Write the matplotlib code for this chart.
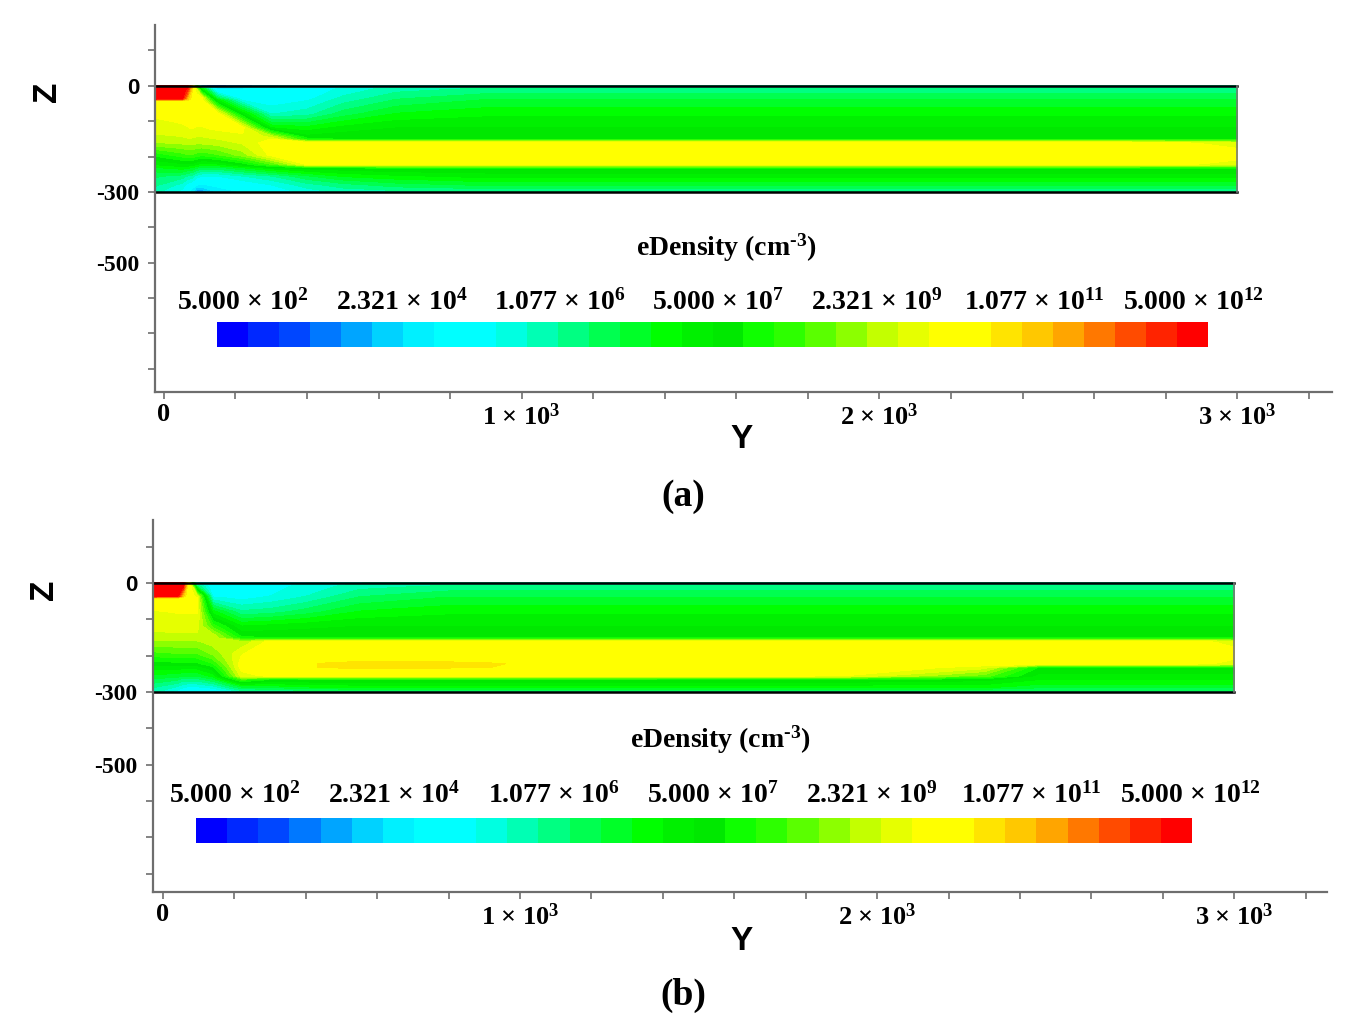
import numpy as np
import matplotlib
matplotlib.use('Agg')
import matplotlib.pyplot as plt

plt.rcParams['font.family'] = ['Liberation Serif', 'DejaVu Serif']
plt.rcParams['font.weight'] = 'bold'
plt.rcParams['mathtext.fontset'] = 'custom'
plt.rcParams['mathtext.rm'] = 'Liberation Serif:bold'
plt.rcParams['mathtext.it'] = 'Liberation Serif:bold:italic'
plt.rcParams['mathtext.bf'] = 'Liberation Serif:bold'
plt.rcParams['mathtext.default'] = 'rm'

# colour scale: log10(eDensity), 32 bands from 5e2 to 5e12 cm^-3
cb_min = np.log10(5e2)
cb_max = np.log10(5e12)
band_colors = [
    '#0000ff', '#0028ff', '#0046ff', '#0078ff', '#00a5ff', '#00d2ff', '#00f0ff', '#00ffff',
    '#00ffff', '#00ffe1', '#00ffb4', '#00ff82', '#00ff50', '#00ff28', '#00ff00', '#00f000',
    '#00e800', '#0fff00', '#2dff00', '#5aff00', '#8cff00', '#c3ff00', '#e6ff00', '#ffff00',
    '#ffff00', '#ffe400', '#ffc800', '#ffa500', '#ff7800', '#ff4b00', '#ff2300', '#ff0000',
]
cb_labels = ['5.000 × $10^{2}$', '2.321 × $10^{4}$', '1.077 × $10^{6}$', '5.000 × $10^{7}$',
             '2.321 × $10^{9}$', '1.077 × $10^{11}$', '5.000 × $10^{12}$']

x_ticks = np.arange(0, 3201, 200)
x_tick_labels = {0: '0', 1000: '1 × $10^{3}$', 2000: '2 × $10^{3}$', 3000: '3 × $10^{3}$'}
y_ticks = np.arange(100, -801, -100)
y_tick_labels = {0: '0', -300: '-300', -500: '-500'}

# ---- panel (a): log10 density, one profile per Y position (values along z_a)
y_a = [-25, 50, 65, 78, 90, 105, 150, 220, 300, 400, 500, 650, 900, 1500, 2200, 2700, 2900, 3000]
z_a = [0, -10, -36, -42, -80, -120, -145, -152, -162, -195, -222, -232, -255, -280, -300]
far_a = [5.9, 6.2, 6.7, 6.8, 7.3, 7.7, 7.9, 8.0, 10.1, 10.35, 10.1, 8.0, 7.5, 6.8, 6.1]
cols_a = [
    [12.6, 12.6, 12.6, 10.2, 9.95, 9.7, 9.5, 9.4, 9.2, 8.1, 7.4, 7.0, 6.5, 6.2, 5.9],
    [12.6, 12.6, 12.5, 10.3, 10.05, 9.8, 9.55, 9.45, 9.3, 8.5, 7.6, 7.2, 6.3, 5.7, 5.4],
    [12.5, 12.3, 11.0, 10.4, 10.1, 9.85, 9.6, 9.5, 9.35, 8.6, 7.6, 7.1, 6.1, 5.4, 5.0],
    [11.2, 10.6, 10.3, 10.3, 10.15, 9.9, 9.6, 9.5, 9.35, 8.6, 7.6, 7.0, 6.0, 5.2, 4.6],
    [7.5, 9.6, 10.2, 10.2, 10.1, 9.85, 9.55, 9.45, 9.3, 8.5, 7.4, 6.8, 5.7, 4.9, 4.0],
    [3.6, 7.4, 10.1, 10.1, 10.05, 9.85, 9.55, 9.45, 9.3, 8.4, 7.2, 6.6, 5.5, 4.8, 3.9],
    [3.7, 4.8, 6.6, 7.4, 10.05, 9.95, 9.65, 9.55, 9.4, 8.6, 7.3, 6.6, 5.5, 5.0, 4.6],
    [4.0, 4.9, 5.2, 5.5, 7.6, 10.0, 9.8, 9.7, 9.6, 9.1, 7.8, 7.0, 5.8, 5.2, 4.9],
    [4.4, 5.0, 5.2, 5.3, 5.8, 7.4, 9.5, 9.9, 10.1, 10.0, 8.6, 7.5, 6.1, 5.5, 5.3],
    [4.9, 5.2, 5.4, 5.5, 6.0, 7.2, 7.8, 8.2, 10.1, 10.3, 9.9, 7.8, 6.7, 6.0, 5.6],
    [5.3, 5.6, 5.9, 6.0, 6.6, 7.5, 7.9, 8.0, 10.1, 10.35, 10.1, 7.9, 7.1, 6.3, 5.9],
    [5.6, 6.0, 6.4, 6.5, 7.1, 7.7, 7.9, 8.0, 10.1, 10.35, 10.1, 8.0, 7.3, 6.6, 6.0],
    far_a,
    far_a,
    far_a,
    [5.9, 6.2, 6.7, 6.8, 7.3, 7.7, 7.9, 8.0, 10.05, 10.35, 10.05, 8.0, 7.5, 6.8, 6.1],
    [5.9, 6.2, 6.7, 6.8, 7.3, 7.7, 7.9, 8.0, 9.85, 10.3, 9.85, 8.0, 7.5, 6.8, 6.1],
    [5.9, 6.2, 6.7, 6.8, 7.3, 7.7, 7.9, 8.0, 9.6, 10.2, 9.6, 8.0, 7.5, 6.8, 6.1],
]

# ---- panel (b)
y_b = [-28, 40, 55, 68, 80, 95, 140, 220, 300, 400, 550, 800, 1300, 1900, 2300, 2450, 2800, 2950, 3000]
z_b = [0, -10, -36, -42, -80, -120, -145, -152, -162, -195, -222, -232, -255, -265, -285, -300]
far_b = [5.9, 6.2, 6.7, 6.8, 7.3, 7.7, 7.9, 8.0, 10.1, 10.35, 10.1, 8.0, 7.6, 7.4, 6.9, 6.2]
cols_b = [
    [12.6, 12.6, 12.6, 10.1, 9.85, 9.65, 9.5, 9.4, 9.2, 8.5, 7.8, 7.5, 7.0, 6.7, 6.2, 5.9],
    [12.6, 12.6, 12.5, 10.2, 9.9, 9.7, 9.5, 9.4, 9.2, 8.6, 7.9, 7.5, 6.9, 6.5, 5.8, 5.3],
    [12.6, 12.5, 11.0, 10.2, 9.9, 9.7, 9.5, 9.4, 9.2, 8.6, 7.9, 7.5, 6.8, 6.3, 5.6, 5.1],
    [10.8, 10.4, 10.2, 10.15, 9.9, 9.7, 9.5, 9.4, 9.2, 8.6, 7.9, 7.5, 6.8, 6.3, 5.5, 5.0],
    [8.0, 9.8, 10.05, 10.05, 9.9, 9.7, 9.5, 9.4, 9.2, 8.6, 7.9, 7.5, 6.8, 6.3, 5.5, 5.0],
    [5.0, 6.5, 9.7, 9.9, 9.9, 9.7, 9.5, 9.4, 9.2, 8.6, 7.9, 7.5, 6.8, 6.3, 5.5, 5.0],
    [5.0, 5.1, 5.3, 5.6, 7.2, 8.5, 9.4, 9.5, 9.4, 9.0, 8.3, 7.9, 7.2, 6.7, 5.7, 5.0],
    [5.1, 5.2, 5.3, 5.4, 6.2, 7.4, 7.9, 8.2, 9.3, 9.85, 10.05, 10.05, 9.7, 8.5, 6.8, 5.8],
    [5.3, 5.4, 5.5, 5.6, 6.3, 7.5, 7.9, 8.0, 10.0, 10.2, 10.25, 10.2, 10.0, 8.0, 6.9, 5.9],
    [5.5, 5.6, 5.8, 5.9, 6.6, 7.6, 7.9, 8.0, 10.1, 10.3, 10.5, 10.5, 10.2, 8.0, 7.1, 6.1],
    [5.8, 6.0, 6.4, 6.5, 7.1, 7.7, 7.9, 8.0, 10.1, 10.35, 10.55, 10.55, 10.2, 8.0, 7.2, 6.2],
    [5.9, 6.2, 6.7, 6.8, 7.3, 7.7, 7.9, 8.0, 10.1, 10.35, 10.54, 10.53, 10.2, 8.0, 7.2, 6.2],
    [5.9, 6.2, 6.7, 6.8, 7.3, 7.7, 7.9, 8.0, 10.1, 10.35, 10.45, 10.45, 10.2, 8.0, 7.2, 6.2],
    [5.9, 6.2, 6.7, 6.8, 7.3, 7.7, 7.9, 8.0, 10.1, 10.35, 10.35, 10.3, 9.9, 8.0, 7.2, 6.2],
    [5.9, 6.2, 6.7, 6.8, 7.3, 7.7, 7.9, 8.0, 10.1, 10.35, 10.1, 9.7, 8.8, 7.8, 7.2, 6.2],
    far_b,
    far_b,
    [5.9, 6.2, 6.7, 6.8, 7.3, 7.7, 7.9, 8.0, 9.85, 10.3, 9.85, 8.0, 7.6, 7.4, 6.9, 6.2],
    [5.9, 6.2, 6.7, 6.8, 7.3, 7.7, 7.9, 8.0, 9.6, 10.2, 9.6, 8.0, 7.6, 7.4, 6.9, 6.2],
]

W, H = 1348, 1034
fig = plt.figure(figsize=(W / 100, H / 100), dpi=100)


def fx(x):
    return x / W


def fy(y):
    return 1 - y / H


panels = [
    dict(y=y_a, z=z_a, cols=cols_a, box=(155, 25, 1332, 392), xlim=(-25, 3265), ylim=(-866, 172),
         cbar=(217, 322, 1208, 347), cb_lx=(243, 1193), cb_ly=302, title=(726, 248),
         zlab=(47, 92), ylab=(742, 440), tag='(a)', tag_pos=(683, 496)),
    dict(y=y_b, z=z_b, cols=cols_b, box=(153, 520, 1327, 892), xlim=(-28, 3260), ylim=(-850, 173),
         cbar=(196, 818, 1192, 843), cb_lx=(235, 1190), cb_ly=795, title=(720, 740),
         zlab=(44, 590), ylab=(742, 941), tag='(b)', tag_pos=(683, 995)),
]

levels = np.linspace(cb_min, cb_max, len(band_colors) + 1)
axis_gray = '#6e6e6e'

for p in panels:
    l, t, r, b = p['box']
    ax = fig.add_axes([fx(l), fy(b), fx(r - l), (b - t) / H])
    field = np.array(p['cols']).T
    cs = ax.contourf(p['y'], p['z'], field, levels=levels, colors=band_colors)
    cs.set_edgecolor('face')
    cs.set_linewidth(0.4)

    y0, y1 = p['y'][0], p['y'][-1]
    ax.plot([y0, y1], [0, 0], color='black', lw=1.8)
    ax.plot([y0, y1], [-300, -300], color='black', lw=1.8)
    ax.plot([y1, y1], [0, -300], color='#777777', lw=1.2)

    ax.set_xlim(*p['xlim'])
    ax.set_ylim(*p['ylim'])
    for side in ['top', 'right']:
        ax.spines[side].set_visible(False)
    for side in ['left', 'bottom']:
        ax.spines[side].set_color(axis_gray)
        ax.spines[side].set_linewidth(1.6)

    ax.set_xticks(x_ticks)
    ax.set_xticklabels([x_tick_labels.get(int(v), '') for v in x_ticks], fontsize=19)
    ax.set_yticks(y_ticks)
    ax.set_yticklabels([y_tick_labels.get(int(v), '') for v in y_ticks], fontsize=17)
    ax.tick_params(direction='out', length=5, width=1.2, color=axis_gray, pad=6)
    ax.tick_params(axis='x', pad=3)
    for lbl in ax.get_yticklabels():
        if lbl.get_text() == '0':
            lbl.set_fontfamily(['Liberation Sans', 'DejaVu Sans'])
            lbl.set_fontsize(16)

    # colour bar inside the plot area
    cl, ct, cr, cb_ = p['cbar']
    cax = fig.add_axes([fx(cl), fy(cb_), fx(cr - cl), (cb_ - ct) / H])
    cbar = fig.colorbar(cs, cax=cax, orientation='horizontal')
    cbar.outline.set_visible(False)
    cax.set_xticks([])
    for i, txt in enumerate(cb_labels):
        xx = p['cb_lx'][0] + i * (p['cb_lx'][1] - p['cb_lx'][0]) / (len(cb_labels) - 1)
        fig.text(fx(xx), fy(p['cb_ly']), txt, fontsize=20, ha='center', va='center')

    fig.text(fx(p['title'][0]), fy(p['title'][1]), r'eDensity (cm$^{\text{-}3}$)', fontsize=20,
             ha='center', va='center')
    fig.text(fx(p['zlab'][0]), fy(p['zlab'][1]), 'Z', rotation=90, fontsize=24,
             family=['Liberation Sans Narrow', 'Liberation Sans'], ha='center', va='center')
    fig.text(fx(p['ylab'][0]), fy(p['ylab'][1]), 'Y', fontsize=24,
             family=['Liberation Sans Narrow', 'Liberation Sans'], ha='center', va='center')
    fig.text(fx(p['tag_pos'][0]), fy(p['tag_pos'][1]), p['tag'], fontsize=27,
             ha='center', va='center')

fig.savefig('out.png', dpi=100)
